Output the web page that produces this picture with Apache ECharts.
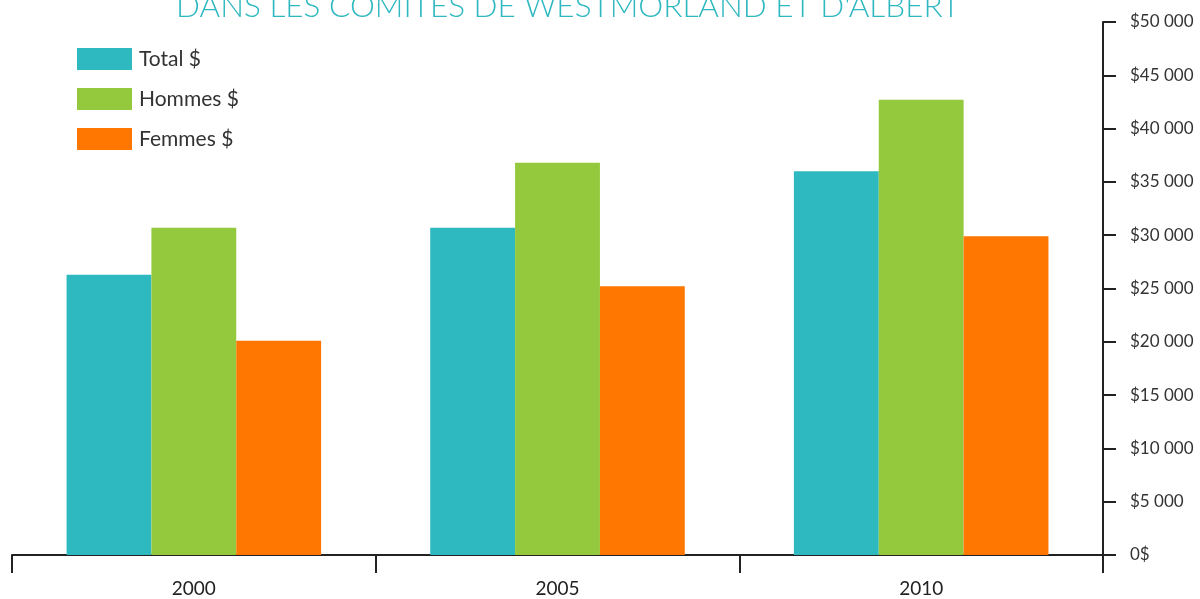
<!DOCTYPE html>
<html>
<head>
<meta charset="utf-8">
<script src="https://cdn.jsdelivr.net/npm/echarts@6/dist/echarts.min.js"></script>
<style>
html,body{margin:0;padding:0;background:#fff;}
#chart{width:1200px;height:599px;}
</style>
</head>
<body>
<div id="chart"></div>
<script>
const titleText = "DANS LES COMITÉS DE WESTMORLAND ET D'ALBERT";
const categories = ["2000", "2005", "2010"];
const seriesNames = ["Total $", "Hommes $", "Femmes $"];
const totalValues = [26300, 30700, 36000];
const hommesValues = [30700, 36800, 42700];
const femmesValues = [20100, 25200, 29900];
const colors = ["#2eb8c0", "#95c93d", "#ff7600"];

const chart = echarts.init(document.getElementById('chart'));
const font = 'Lato, "DejaVu Sans", sans-serif';

function fmt(v) {
  if (v === 0) return '0$';
  const s = String(v);
  return '$' + s.slice(0, s.length - 3) + ' ' + s.slice(-3);
}

const option = {
  animation: false,
  backgroundColor: '#ffffff',
  title: {
    text: titleText,
    left: 563,
    textAlign: 'center',
    top: -14,
    textStyle: { color: '#2eb8c0', fontSize: 31.5, fontWeight: 300, fontFamily: font }
  },
  legend: {
    orient: 'vertical',
    left: 72,
    top: 43,
    itemWidth: 55,
    itemHeight: 22,
    itemGap: 18,
    icon: 'rect',
    textStyle: { color: '#333', fontSize: 21, fontFamily: font, padding: [0, 0, 0, 2] },
    data: seriesNames
  },
  grid: { left: 12, right: 97, top: 22, bottom: 44, containLabel: false },
  xAxis: {
    type: 'category',
    data: categories,
    boundaryGap: true,
    axisLine: { lineStyle: { color: '#222', width: 2 } },
    axisTick: { show: true, length: 18, alignWithLabel: false, lineStyle: { color: '#222', width: 2 } },
    axisLabel: { color: '#222', fontSize: 19, fontFamily: font, margin: 24 },
    splitLine: { show: false }
  },
  yAxis: {
    type: 'value',
    position: 'right',
    min: 0,
    max: 50000,
    interval: 5000,
    axisLine: { show: true, lineStyle: { color: '#222', width: 2 } },
    axisTick: { show: true, inside: false, length: 13, lineStyle: { color: '#222', width: 2 } },
    axisLabel: { color: '#333', fontSize: 17, fontFamily: font, margin: 27, formatter: fmt },
    splitLine: { show: false }
  },
  series: [
    { name: seriesNames[0], type: 'bar', data: totalValues, itemStyle: { color: colors[0] }, barGap: '0%', barCategoryGap: '30%' },
    { name: seriesNames[1], type: 'bar', data: hommesValues, itemStyle: { color: colors[1] }, barGap: '0%', barCategoryGap: '30%' },
    { name: seriesNames[2], type: 'bar', data: femmesValues, itemStyle: { color: colors[2] }, barGap: '0%', barCategoryGap: '30%' }
  ]
};
chart.setOption(option);
</script>
</body>
</html>
